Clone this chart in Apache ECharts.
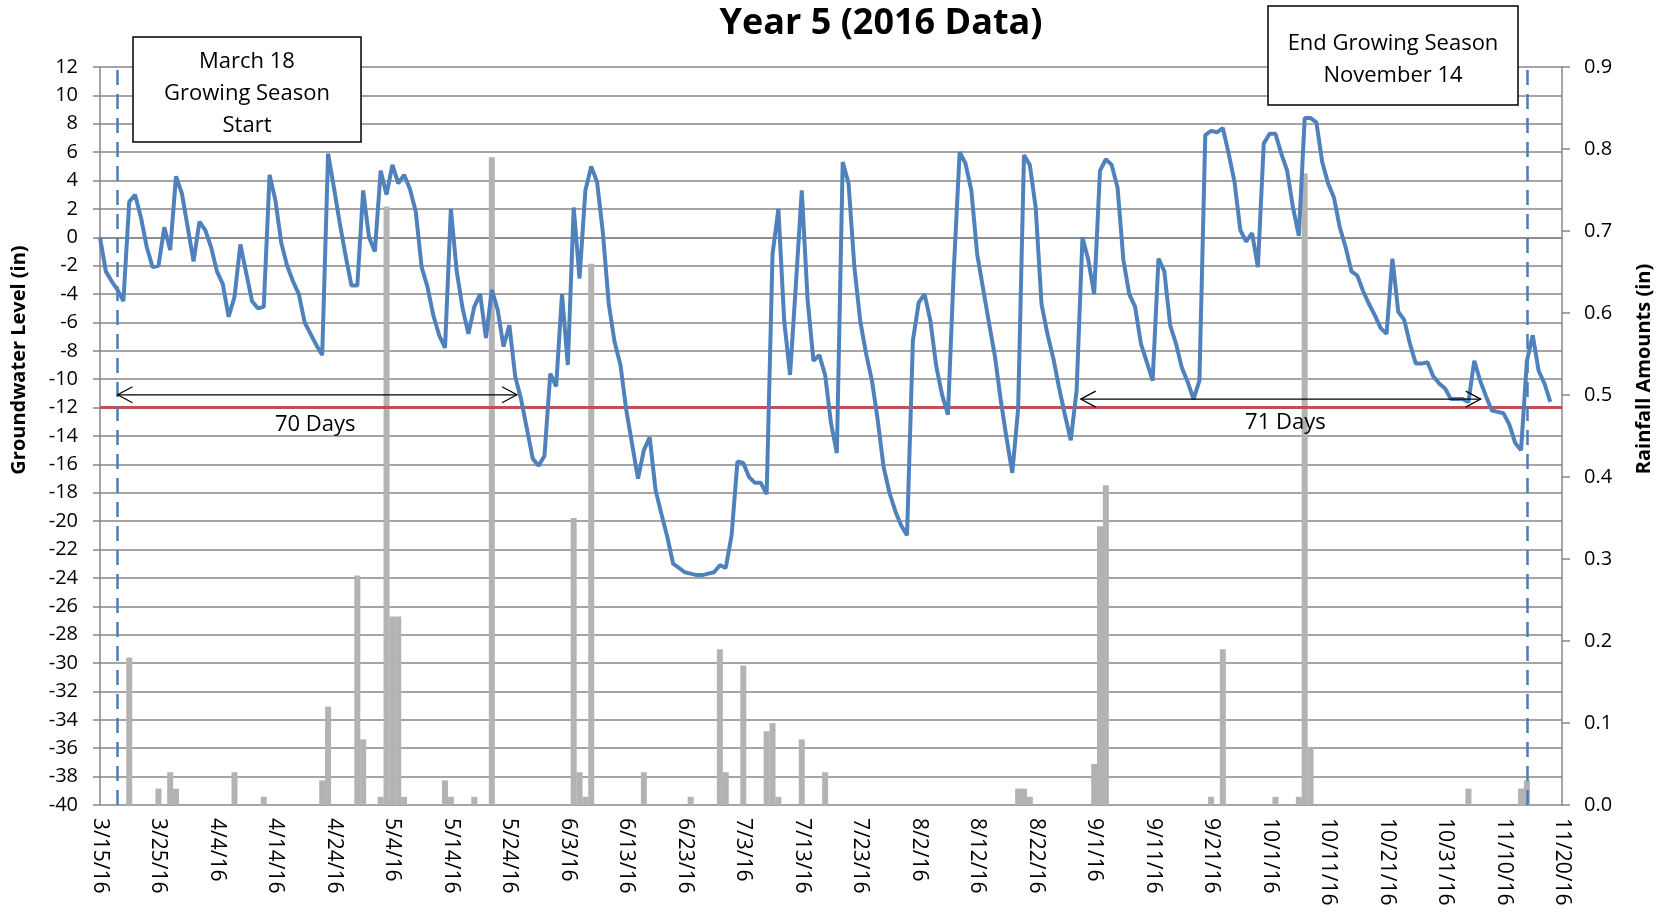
<!DOCTYPE html>
<html>
<head>
<meta charset="utf-8">
<title>Year 5 (2016 Data)</title>
<script src="https://cdn.jsdelivr.net/npm/echarts/dist/echarts.min.js"></script>
<style>
  html, body { margin: 0; padding: 0; background: #fff; }
  #chart { width: 1665px; height: 917px; }
</style>
</head>
<body>
<div id="chart"></div>
<script>
// daily categories 3/15/16 .. 11/20/16
const firstDay = new Date(2016, 2, 15)
const dayCount = 251
const dates = []
for (let i = 0; i < dayCount; i++) {
  const d = new Date(firstDay.getFullYear(), firstDay.getMonth(), firstDay.getDate() + i)
  dates.push((d.getMonth() + 1) + '/' + d.getDate() + '/16')
}

// groundwater level (in), one value per day from 3/15/16
const groundwater = [
  0, -2.4, -3.1, -3.7, -4.5, 2.5, 3.0, 1.4, -0.7, -2.1,
  -2.0, 0.7, -0.9, 4.3, 3.1, 0.7, -1.7, 1.1, 0.5, -0.7,
  -2.4, -3.3, -5.6, -4.2, -0.5, -2.5, -4.5, -5.0, -4.9, 4.4,
  2.6, -0.4, -2.0, -3.1, -4.0, -6.0, -6.8, -7.6, -8.3, 5.9,
  3.5, 1.0, -1.3, -3.4, -3.4, 3.3, 0.0, -1.0, 4.7, 3.0,
  5.1, 3.8, 4.4, 3.4, 1.8, -2.1, -3.5, -5.5, -6.9, -7.8,
  2.0, -2.4, -5.0, -6.8, -4.9, -4.0, -7.1, -3.7, -5.1, -7.7,
  -6.2, -9.8, -11.4, -13.5, -15.6, -16.1, -15.4, -9.6, -10.5, -4.0,
  -9.0, 2.1, -2.9, 3.3, 5.0, 3.9, 0.3, -4.7, -7.4, -9.0,
  -12.2, -14.6, -17.0, -15.0, -14.1, -17.8, -19.5, -21.1, -23.0, -23.3,
  -23.6, -23.7, -23.8, -23.8, -23.7, -23.6, -23.1, -23.3, -21.0, -15.8,
  -15.9, -16.9, -17.3, -17.3, -18.1, -1.2, 2.0, -5.9, -9.7, -3.3,
  3.3, -4.4, -8.7, -8.3, -9.7, -13.1, -15.2, 5.3, 3.8, -2.1,
  -5.9, -8.2, -10.1, -12.9, -16.2, -18.0, -19.3, -20.3, -21.0, -7.3,
  -4.6, -4.0, -5.9, -9.1, -11.1, -12.5, -2.3, 6.0, 5.2, 3.3,
  -1.2, -3.6, -6.0, -8.3, -11.4, -14.1, -16.6, -12.1, 5.8, 5.1,
  2.1, -4.7, -6.8, -8.5, -10.6, -12.5, -14.3, -10.8, 0.0, -1.6,
  -4.0, 4.7, 5.5, 5.1, 3.5, -1.6, -4.0, -4.9, -7.5, -8.8,
  -10.1, -1.5, -2.4, -6.2, -7.5, -9.2, -10.2, -11.4, -10.1, 7.2,
  7.5, 7.4, 7.7, 5.9, 3.9, 0.5, -0.3, 0.3, -2.1, 6.6,
  7.3, 7.3, 5.9, 4.7, 2.1, 0.1, 8.4, 8.4, 8.1, 5.3,
  3.8, 2.8, 0.7, -0.7, -2.4, -2.7, -3.8, -4.7, -5.5, -6.4,
  -6.8, -1.5, -5.25, -5.8, -7.5, -8.9, -8.9, -8.8, -9.8, -10.3,
  -10.65, -11.4, -11.4, -11.4, -11.6, -8.7, -10.1, -11.2, -12.2, -12.3,
  -12.4, -13.2, -14.5, -15.0, -8.7, -6.9, -9.4, -10.3, -11.6
]

// rainfall (in), only the days with rain
const rainDates = [
  '3/20/16', '3/25/16', '3/27/16', '3/28/16', '4/7/16', '4/12/16', '4/22/16', '4/23/16',
  '4/28/16', '4/29/16', '5/2/16', '5/3/16', '5/4/16', '5/5/16', '5/6/16', '5/13/16',
  '5/14/16', '5/18/16', '5/21/16', '6/4/16', '6/5/16', '6/6/16', '6/7/16', '6/16/16',
  '6/24/16', '6/29/16', '6/30/16', '7/3/16', '7/7/16', '7/8/16', '7/9/16', '7/13/16',
  '7/17/16', '8/19/16', '8/20/16', '8/21/16', '9/1/16', '9/2/16', '9/3/16', '9/21/16',
  '9/23/16', '10/2/16', '10/6/16', '10/7/16', '10/8/16', '11/4/16', '11/13/16', '11/14/16'
]
const rainAmounts = [
  0.18, 0.02, 0.04, 0.02, 0.04, 0.01, 0.03, 0.12,
  0.28, 0.08, 0.01, 0.73, 0.23, 0.23, 0.01, 0.03,
  0.01, 0.01, 0.79, 0.35, 0.04, 0.01, 0.66, 0.04,
  0.01, 0.19, 0.04, 0.17, 0.09, 0.10, 0.01, 0.08,
  0.04, 0.02, 0.02, 0.01, 0.05, 0.34, 0.39, 0.01,
  0.19, 0.01, 0.01, 0.77, 0.07, 0.02, 0.02, 0.03
]

const levelAxis = { min: -40, max: 12, step: 2 }
const rainAxis = { min: 0, max: 0.9, step: 0.1 }
const threshold = -12
const seasonStart = '3/18/16'
const seasonEnd = '11/14/16'

const gridColor = '#878787'
const font = 'Open Sans'

const chart = echarts.init(document.getElementById('chart'))

chart.setOption({
  animation: false,
  textStyle: { fontFamily: font },
  grid: { left: 100, right: 103, top: 67, bottom: 112 },
  xAxis: {
    type: 'category',
    data: dates,
    boundaryGap: false,
    axisLine: { lineStyle: { color: gridColor, width: 1.5 } },
    axisTick: { show: false },
    axisLabel: { interval: 9, rotate: -90, margin: 13, fontSize: 21, color: '#000' },
    splitLine: { show: false }
  },
  yAxis: [{
    type: 'value',
    min: levelAxis.min,
    max: levelAxis.max,
    interval: levelAxis.step,
    axisLine: { show: true, lineStyle: { color: gridColor, width: 1.5 } },
    axisTick: { show: true, length: 7, lineStyle: { color: gridColor, width: 1.5 } },
    axisLabel: { margin: 22, fontSize: 20, color: '#000' },
    splitLine: { lineStyle: { color: gridColor, width: 1.5 } }
  }, {
    type: 'value',
    position: 'right',
    min: rainAxis.min,
    max: rainAxis.max,
    interval: rainAxis.step,
    axisLine: { show: true, lineStyle: { color: gridColor, width: 1.5 } },
    axisTick: { show: true, length: 8, lineStyle: { color: gridColor, width: 1.5 } },
    axisLabel: { margin: 22, fontSize: 20, color: '#000', formatter: v => v.toFixed(1) },
    splitLine: { show: false }
  }],
  series: [{
    name: 'Rainfall',
    type: 'bar',
    yAxisIndex: 1,
    barWidth: 6,
    itemStyle: { color: '#b3b3b3' },
    data: rainDates.map((d, i) => [d, rainAmounts[i]])
  }, {
    name: 'Groundwater',
    type: 'line',
    z: 6,
    showSymbol: false,
    symbol: 'none',
    lineStyle: { color: '#4f81bd', width: 4 },
    data: groundwater,
    markLine: {
      silent: true,
      symbol: 'none',
      label: { show: false },
      data: [
        { yAxis: threshold, lineStyle: { color: '#c0504d', width: 3, type: 'solid' } },
        { xAxis: seasonStart, lineStyle: { color: '#4a7ebb', width: 2.5, type: [15, 9] } },
        { xAxis: seasonEnd, lineStyle: { color: '#4a7ebb', width: 2.5, type: [15, 9] } }
      ]
    }
  }]
})

// pixel of a (fractional) day index / level
function toPx(day, level) {
  const a = chart.convertToPixel({ xAxisIndex: 0, yAxisIndex: 0 }, [0, level])
  const b = chart.convertToPixel({ xAxisIndex: 0, yAxisIndex: 0 }, [dayCount - 1, level])
  return [a[0] + (b[0] - a[0]) * day / (dayCount - 1), a[1]]
}

function textEl(text, x, y, size, bold, rotation) {
  return {
    type: 'text',
    x: x,
    y: y,
    rotation: rotation || 0,
    z: 100,
    style: {
      text: text,
      font: (bold ? 'bold ' : '') + size + 'px "' + font + '"',
      fill: '#000',
      align: 'center',
      verticalAlign: 'middle',
      textAlign: 'center',
      textVerticalAlign: 'middle',
      lineHeight: 32
    }
  }
}

function spanArrow(fromDay, toDay, level, label, labelDay, labelLevel) {
  const p1 = toPx(fromDay, level)
  const p2 = toPx(toDay, level)
  const y = p1[1]
  const stroke = { stroke: '#000', lineWidth: 1.2, fill: null }
  const t = toPx(labelDay, labelLevel)
  return [
    { type: 'line', z: 100, shape: { x1: p1[0], y1: y, x2: p2[0], y2: y }, style: stroke },
    { type: 'polyline', z: 100, shape: { points: [[p1[0] + 15, y - 8], [p1[0], y], [p1[0] + 15, y + 8]] }, style: stroke },
    { type: 'polyline', z: 100, shape: { points: [[p2[0] - 15, y - 8], [p2[0], y], [p2[0] - 15, y + 8]] }, style: stroke },
    textEl(label, t[0], t[1], 22, false)
  ]
}

function box(x, y, w, h, text) {
  return [
    { type: 'rect', z: 90, shape: { x: x, y: y, width: w, height: h }, style: { fill: '#fff', stroke: '#000', lineWidth: 1.5 } },
    textEl(text, x + w / 2, y + h / 2 + 4, 22, false)
  ]
}

chart.setOption({
  graphic: [
    textEl('Year 5 (2016 Data)', 881, 24, 36, true),
    textEl('Groundwater Level (in)', 19, 360, 20, true, Math.PI / 2),
    textEl('Rainfall Amounts (in)', 1644, 369, 20, true, Math.PI / 2),
    ...box(133, 37, 228, 105, 'March 18\nGrowing Season\nStart'),
    ...box(1268, 6, 250, 99, 'End Growing Season\nNovember 14'),
    ...spanArrow(3, 71.3, -11.1, '70 Days', 36.8, -13.2),
    ...spanArrow(167.7, 236.1, -11.4, '71 Days', 202.7, -13.1)
  ]
})
</script>
</body>
</html>
